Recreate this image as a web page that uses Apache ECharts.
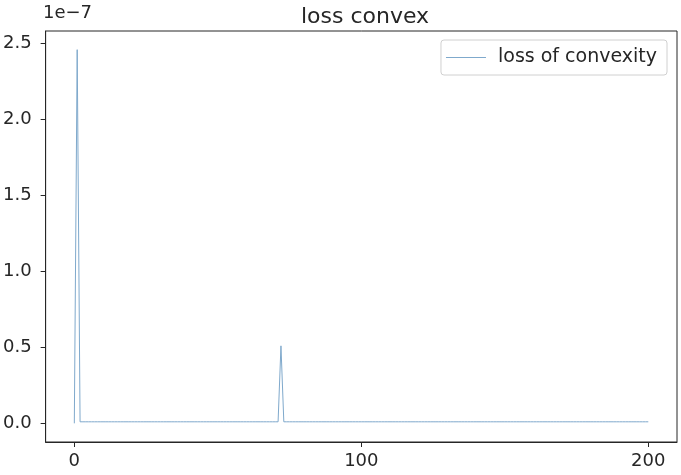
<!DOCTYPE html>
<html>
<head>
<meta charset="utf-8">
<script src="https://cdn.jsdelivr.net/npm/echarts@6/dist/echarts.min.js"></script>
<style>
  html, body { margin: 0; padding: 0; background: #fff; }
  #chart { width: 681px; height: 475px; }
</style>
</head>
<body>
<div id="chart"></div>
<script>
// loss values, in units of 1e-7 (one per epoch, 0..200)
const lossConvexity = [
  0, 2.46, 0.01, 0.01, 0.01, 0.01, 0.01, 0.01, 0.01, 0.01,
  0.01, 0.01, 0.01, 0.01, 0.01, 0.01, 0.01, 0.01, 0.01, 0.01,
  0.01, 0.01, 0.01, 0.01, 0.01, 0.01, 0.01, 0.01, 0.01, 0.01,
  0.01, 0.01, 0.01, 0.01, 0.01, 0.01, 0.01, 0.01, 0.01, 0.01,
  0.01, 0.01, 0.01, 0.01, 0.01, 0.01, 0.01, 0.01, 0.01, 0.01,
  0.01, 0.01, 0.01, 0.01, 0.01, 0.01, 0.01, 0.01, 0.01, 0.01,
  0.01, 0.01, 0.01, 0.01, 0.01, 0.01, 0.01, 0.01, 0.01, 0.01,
  0.01, 0.01, 0.51, 0.01, 0.01, 0.01, 0.01, 0.01, 0.01, 0.01,
  0.01, 0.01, 0.01, 0.01, 0.01, 0.01, 0.01, 0.01, 0.01, 0.01,
  0.01, 0.01, 0.01, 0.01, 0.01, 0.01, 0.01, 0.01, 0.01, 0.01,
  0.01, 0.01, 0.01, 0.01, 0.01, 0.01, 0.01, 0.01, 0.01, 0.01,
  0.01, 0.01, 0.01, 0.01, 0.01, 0.01, 0.01, 0.01, 0.01, 0.01,
  0.01, 0.01, 0.01, 0.01, 0.01, 0.01, 0.01, 0.01, 0.01, 0.01,
  0.01, 0.01, 0.01, 0.01, 0.01, 0.01, 0.01, 0.01, 0.01, 0.01,
  0.01, 0.01, 0.01, 0.01, 0.01, 0.01, 0.01, 0.01, 0.01, 0.01,
  0.01, 0.01, 0.01, 0.01, 0.01, 0.01, 0.01, 0.01, 0.01, 0.01,
  0.01, 0.01, 0.01, 0.01, 0.01, 0.01, 0.01, 0.01, 0.01, 0.01,
  0.01, 0.01, 0.01, 0.01, 0.01, 0.01, 0.01, 0.01, 0.01, 0.01,
  0.01, 0.01, 0.01, 0.01, 0.01, 0.01, 0.01, 0.01, 0.01, 0.01,
  0.01, 0.01, 0.01, 0.01, 0.01, 0.01, 0.01, 0.01, 0.01, 0.01,
  0.01
];
const xTicks = [0, 100, 200];
const yTicks = [0, 0.5, 1.0, 1.5, 2.0, 2.5];
const seriesName = "loss of convexity";
const titleText = "loss convex";
const offsetText = "1e\u22127";

const font = "DejaVu Sans";
const ink = "#262626";
const lineColor = "#7fa9cc";

const chart = echarts.init(document.getElementById("chart"));
const points = lossConvexity.map((v, i) => [i, v]);

const option = {
  animation: false,
  backgroundColor: "#fff",
  title: {
    text: titleText,
    left: 360,
    textAlign: "center",
    top: 1,
    textStyle: { fontFamily: font, fontSize: 22, fontWeight: "normal", color: ink }
  },
  legend: {
    right: 14,
    top: 40,
    itemWidth: 40,
    itemHeight: 14,
    padding: [8, 10, 8, 5],
    borderColor: "#d0d0d0",
    borderWidth: 1,
    borderRadius: 3,
    data: [{ name: seriesName, icon: "path://M0,6L40,6L40,7L0,7Z", itemStyle: { color: lineColor } }],
    textStyle: { fontFamily: font, fontSize: 19, color: ink, padding: [0, 0, 0, 7] }
  },
  graphic: [
    {
      type: "text",
      left: 43,
      top: 4,
      style: { text: offsetText, fontFamily: font, fontSize: 18, fill: ink }
    }
  ],
  grid: {
    left: 43,
    right: 4,
    top: 31,
    bottom: 33,
    show: true,
    borderColor: ink,
    borderWidth: 1
  },
  xAxis: {
    type: "value",
    min: -10,
    max: 210,
    splitLine: { show: false },
    axisLine: { onZero: false, lineStyle: { color: ink, width: 1 } },
    axisTick: { length: 5, customValues: xTicks, lineStyle: { color: ink } },
    axisLabel: {
      customValues: xTicks,
      margin: 10,
      fontFamily: font,
      fontSize: 18,
      color: ink
    }
  },
  yAxis: {
    type: "value",
    min: -0.123,
    max: 2.583,
    splitLine: { show: false },
    axisLine: { show: true, onZero: false, lineStyle: { color: ink, width: 1 } },
    axisTick: { show: true, length: 5, customValues: yTicks, lineStyle: { color: ink } },
    axisLabel: {
      customValues: yTicks,
      margin: 14,
      fontFamily: font,
      fontSize: 18,
      color: ink,
      formatter: v => v.toFixed(1)
    }
  },
  series: [
    {
      name: seriesName,
      type: "line",
      data: points,
      symbol: "none",
      lineStyle: { color: lineColor, width: 1 },
      itemStyle: { color: lineColor }
    }
  ]
};
chart.setOption(option);
</script>
</body>
</html>
